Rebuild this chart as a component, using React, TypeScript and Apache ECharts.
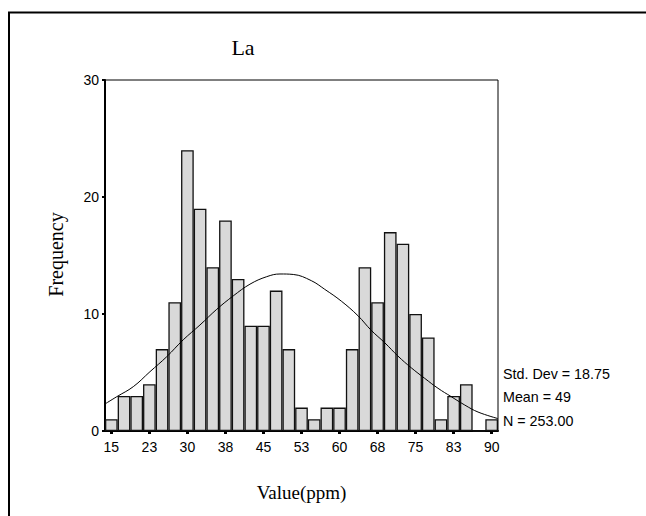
import React, { useEffect, useRef } from "react";
import * as echarts from "echarts";

// Histogram bins (midpoints, ppm) and their frequencies
const binCenters = [
  15, 17.5, 20, 22.5, 25, 27.5, 30, 32.5, 35, 37.5, 40, 42.5, 45, 47.5, 50, 52.5,
  55, 57.5, 60, 62.5, 65, 67.5, 70, 72.5, 75, 77.5, 80, 82.5, 85, 87.5, 90,
];
const frequencies = [
  1, 3, 3, 4, 7, 11, 24, 19, 14, 18, 13, 9, 9, 12, 7, 2,
  1, 2, 2, 7, 14, 11, 17, 16, 10, 8, 1, 3, 4, 0, 1,
];

// Labels shown under every third bin
const xTickLabels = ["15", "23", "30", "38", "45", "53", "60", "68", "75", "83", "90"];

// Fitted normal curve, sampled as [value, frequency]
const curveX = [
  13.75, 16.06, 19.33, 22.62, 25.92, 29.19, 32.48, 35.78, 39.05, 42.34, 45.64, 48.26,
  50.88, 54.43, 57.08, 60.35, 63.64, 66.26, 68.9, 71.53, 74.15, 76.8, 79.42, 82.05,
  84.69, 87.31, 91.25,
];
const curveY = [
  2.31, 2.93, 3.79, 5.07, 6.35, 7.8, 9.06, 10.4, 11.55, 12.55, 13.19, 13.42,
  13.38, 12.85, 12.11, 11.1, 9.85, 8.6, 7.55, 6.4, 5.4, 4.5, 3.65, 2.93,
  2.22, 1.62, 1.06,
];

const statLines = ["Std. Dev = 18.75", "Mean = 49", "N = 253.00"];

const SANS = "'Liberation Sans', Arial, sans-serif";
const SERIF = "'Liberation Serif', 'Times New Roman', serif";

export default function App() {
  const ref = useRef<HTMLDivElement>(null);

  useEffect(() => {
    if (!ref.current) return;
    const chart = echarts.init(ref.current, undefined, { renderer: "svg" });

    const curveData = curveX.map((x, i) => [x, curveY[i]]);

    chart.setOption({
      animation: false,
      backgroundColor: "#ffffff",
      grid: {
        left: 105,
        top: 80,
        right: 148,
        bottom: 85,
        show: true,
        borderColor: "#000",
        borderWidth: 1,
        backgroundColor: "transparent",
      },
      xAxis: [
        {
          type: "category",
          data: binCenters.map(String),
          boundaryGap: true,
          axisLine: { show: true, lineStyle: { color: "#000", width: 2 } },
          axisTick: {
            show: true,
            alignWithLabel: true,
            interval: 2,
            length: 3,
            lineStyle: { color: "#000", width: 3 },
          },
          axisLabel: {
            interval: 2,
            margin: 9,
            color: "#000",
            fontFamily: SANS,
            fontSize: 14,
            formatter: (_v: string, idx: number) => xTickLabels[Math.round(idx / 3)] ?? "",
          },
          splitLine: { show: false },
        },
        {
          type: "value",
          min: 13.75,
          max: 91.25,
          show: false,
        },
      ],
      yAxis: {
        type: "value",
        min: 0,
        max: 30,
        interval: 10,
        axisLine: { show: true, lineStyle: { color: "#000", width: 2 } },
        axisTick: { show: true, length: 3, lineStyle: { color: "#000", width: 2 } },
        axisLabel: { margin: 6, color: "#000", fontFamily: SANS, fontSize: 14 },
        splitLine: { show: false },
      },
      series: [
        {
          type: "bar",
          xAxisIndex: 0,
          data: frequencies,
          barCategoryGap: "0%",
          itemStyle: { color: "#d9d9d9", borderColor: "#111", borderWidth: 1.3 },
          silent: true,
        },
        {
          type: "line",
          xAxisIndex: 1,
          data: curveData,
          smooth: 0.4,
          showSymbol: false,
          lineStyle: { color: "#000", width: 1 },
          silent: true,
          z: 5,
        },
      ],
      graphic: [
        {
          type: "polyline",
          shape: { points: [[9, 520], [9, 12.5], [650, 12.5]] },
          style: { stroke: "#000", lineWidth: 2, fill: "none" },
          silent: true,
        },
        {
          type: "text",
          x: 243,
          y: 47,
          style: {
            text: "La",
            font: `22px ${SERIF}`,
            fill: "#000",
            align: "center",
            verticalAlign: "middle",
          },
        },
        {
          type: "text",
          x: 56,
          y: 254.5,
          rotation: Math.PI / 2,
          style: {
            text: "Frequency",
            font: `20px ${SERIF}`,
            fill: "#000",
            align: "center",
            verticalAlign: "middle",
          },
        },
        {
          type: "text",
          x: 301.5,
          y: 492,
          style: {
            text: "Value(ppm)",
            font: `19px ${SERIF}`,
            fill: "#000",
            align: "center",
            verticalAlign: "middle",
          },
        },
        ...statLines.map((t, i) => ({
          type: "text",
          x: 503,
          y: [373.5, 397, 421][i],
          style: {
            text: t,
            font: `14.3px ${SANS}`,
            fill: "#000",
            align: "left",
            verticalAlign: "middle",
          },
        })),
      ],
    });

    return () => chart.dispose();
  }, []);

  return (
    <div
      ref={ref}
      style={{ position: "fixed", left: 0, top: 0, width: 646, height: 516, background: "#fff" }}
    />
  );
}
